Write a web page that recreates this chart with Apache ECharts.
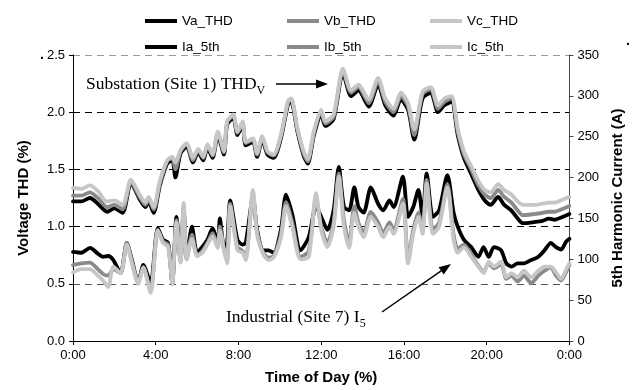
<!DOCTYPE html>
<html><head><meta charset="utf-8">
<script src="https://cdn.jsdelivr.net/npm/echarts@6/dist/echarts.min.js"></script>
<style>html,body{margin:0;padding:0;background:#fff}#c{width:633px;height:390px}</style>
</head><body><div id="c"></div>
<script>
// ---- data (hours of day) ----
const voltHours = [0,0.4,0.82,1.2,1.65,2.0,2.4,2.8,3.25,3.5,3.65,3.9,4.2,4.55,4.8,4.95,5.2,5.5,5.8,6.05,6.3,6.5,6.75,7.0,7.3,7.45,7.75,7.95,8.2,8.35,8.7,8.9,9.15,9.4,9.7,10.05,10.4,10.55,10.85,11.15,11.35,11.65,12.0,12.2,12.6,13.05,13.45,13.8,14.3,14.75,15.1,15.5,15.85,16.2,16.5,16.9,17.3,17.65,17.95,18.3,18.6,18.9,19.25,19.6,19.9,20.2,20.55,20.85,21.2,21.5,21.75,22.3,22.7,23.0,23.3,23.6,24.0];
const vaTHD = [1.22,1.22,1.25,1.20,1.13,1.16,1.12,1.38,1.23,1.17,1.22,1.12,1.36,1.55,1.58,1.43,1.64,1.70,1.56,1.65,1.58,1.69,1.60,1.80,1.63,1.89,1.95,1.80,1.89,1.71,1.74,1.61,1.76,1.63,1.60,1.77,2.07,2.09,1.83,1.62,1.55,1.80,1.98,1.88,1.94,2.34,2.14,2.19,2.05,2.24,2.06,1.97,2.11,2.02,1.76,2.12,2.17,2.00,2.06,2.09,1.80,1.60,1.46,1.32,1.23,1.19,1.26,1.19,1.14,1.07,1.03,1.04,1.05,1.07,1.06,1.08,1.11];
const vbTHD = [1.27,1.27,1.30,1.25,1.17,1.19,1.15,1.39,1.25,1.19,1.24,1.15,1.38,1.57,1.60,1.50,1.66,1.72,1.58,1.67,1.60,1.71,1.62,1.82,1.65,1.91,1.97,1.82,1.91,1.73,1.76,1.63,1.78,1.65,1.62,1.79,2.09,2.11,1.85,1.64,1.57,1.82,2.00,1.90,1.96,2.36,2.17,2.22,2.08,2.27,2.09,2.00,2.14,2.05,1.80,2.16,2.20,2.03,2.09,2.12,1.83,1.63,1.50,1.36,1.28,1.25,1.32,1.26,1.21,1.14,1.10,1.11,1.12,1.13,1.13,1.15,1.18];
const vcTHD = [1.34,1.33,1.36,1.31,1.22,1.23,1.19,1.41,1.27,1.21,1.26,1.17,1.40,1.58,1.61,1.56,1.67,1.73,1.60,1.68,1.61,1.72,1.63,1.83,1.66,1.92,1.98,1.83,1.92,1.74,1.77,1.64,1.79,1.66,1.63,1.80,2.10,2.12,1.86,1.66,1.59,1.84,2.02,1.92,1.98,2.38,2.19,2.24,2.11,2.30,2.12,2.03,2.17,2.08,1.85,2.18,2.22,2.06,2.12,2.14,1.86,1.66,1.53,1.40,1.32,1.30,1.37,1.32,1.28,1.22,1.19,1.19,1.20,1.21,1.21,1.23,1.26];

const currHours = [0,0.4,0.82,1.2,1.45,1.7,1.95,2.3,2.6,2.85,3.15,3.4,3.75,4.1,4.35,4.6,4.8,5.0,5.2,5.35,5.5,5.75,6.0,6.25,6.5,6.75,7.0,7.1,7.3,7.45,7.6,7.95,8.2,8.35,8.7,8.9,9.2,9.45,9.7,10.05,10.3,10.6,11.0,11.4,11.75,12.0,12.3,12.6,12.85,13.1,13.35,13.6,13.8,14.05,14.4,14.75,15.0,15.3,15.5,15.95,16.2,16.45,16.7,16.9,17.1,17.4,17.7,18.1,18.4,18.6,18.9,19.25,19.6,19.85,20.1,20.35,20.7,20.95,21.2,21.5,21.8,22.15,22.5,22.8,23.1,23.35,23.6,23.85,24.0];
const ia5th = [109,108,114,107,103,104,99,83,120,99,72,93,71,138,124,120,71,152,99,160,103,140,108,115,124,138,120,150,115,120,172,124,118,120,175,136,111,111,108,136,179,155,111,127,165,152,136,160,213,164,160,188,164,157,188,168,160,172,164,201,152,164,185,152,205,152,160,203,157,140,124,115,103,115,103,115,111,95,91,95,95,99,103,111,120,115,112,122,125];
const ib5th = [93,95,96,88,82,80,88,83,120,97,72,90,62,136,122,118,70,148,97,166,100,130,105,110,120,132,116,140,112,100,168,115,110,102,180,133,108,102,104,130,170,145,103,110,175,140,120,145,205,148,120,165,145,132,158,145,132,145,136,174,100,136,157,136,197,136,145,192,130,113,118,106,92,85,95,89,94,76,80,73,80,71,80,86,90,80,74,85,93];
const ic5th = [84,88,88,80,74,66,91,83,118,95,70,90,59,135,120,115,70,145,96,169,100,125,104,108,118,128,114,135,111,95,165,111,108,99,185,130,106,99,102,126,165,140,100,103,181,136,115,140,201,140,114,157,140,127,152,140,127,140,131,168,95,131,152,131,193,131,140,188,124,108,115,103,91,83,97,91,97,78,83,78,86,78,86,91,91,84,76,88,95];

const legendNames = ['Va_THD','Vb_THD','Vc_THD','Ia_5th','Ib_5th','Ic_5th'];

// ---- chart ----
const FONT = '"Liberation Sans", Arial, sans-serif';
const SERIF = '"Liberation Serif", "Times New Roman", serif';
const colors = ['#000000','#8a8a8a','#c6c6c6'];
const chart = echarts.init(document.getElementById('c'), null, {renderer:'canvas'});

function mk(name, hours, vals, yIdx, color){
  return {
    name, type:'line', yAxisIndex:yIdx, symbol:'none', smooth:0.25,
    data: hours.map((h,i)=>[h, vals[i]]),
    lineStyle:{width:3.8, color, cap:'round', join:'round'},
    itemStyle:{color}, emphasis:{disabled:true}, animation:false
  };
}

const legendPos = [[140,9],[282,9],[425,9],[140,35],[282,35],[425,35]];
const legends = legendNames.map((n,i)=>({
  data:[n], left:legendPos[i][0], top:legendPos[i][1], icon:'rect',
  itemWidth:32, itemHeight:4, itemGap:0, selectedMode:false,
  textStyle:{fontFamily:FONT, fontSize:13.5, color:'#000'}
}));

function measure(text, font){
  const c = document.createElement('canvas').getContext('2d');
  c.font = font; return c.measureText(text).width;
}
const annSize = 17.5;
const w1 = measure('Substation (Site 1) THD', annSize+'px '+SERIF);
const w2 = measure('Industrial (Site 7) I', annSize+'px '+SERIF);

function arrow(x1,y1,x2,y2){
  const a = Math.atan2(y2-y1, x2-x1), L=12, W=4.5;
  const bx = x2 - L*Math.cos(a), by = y2 - L*Math.sin(a);
  return [
    {type:'line', shape:{x1,y1,x2:bx,y2:by}, style:{stroke:'#000', lineWidth:1.5}, z:100},
    {type:'polygon', shape:{points:[[x2,y2],[bx - W*Math.sin(a), by + W*Math.cos(a)],[bx + W*Math.sin(a), by - W*Math.cos(a)]]}, style:{fill:'#000'}, z:100}
  ];
}

const option = {
  backgroundColor:'#fff',
  animation:false,
  textStyle:{fontFamily:FONT},
  legend: legends,
  grid:{left:73, right:62, top:55, bottom:49, show:false},
  xAxis:{
    type:'value', min:0, max:24, interval:4,
    name:'Time of Day (%)', nameLocation:'middle', nameGap:29,
    nameTextStyle:{fontFamily:FONT, fontSize:15, fontWeight:'bold', color:'#000'},
    axisLine:{lineStyle:{color:'#000', width:1}},
    axisTick:{show:true, length:4, lineStyle:{color:'#000'}},
    axisLabel:{formatter:v=>(v%24)+':00', fontFamily:FONT, fontSize:13, color:'#000', margin:8},
    splitLine:{show:false}
  },
  yAxis:[{
    type:'value', min:0, max:2.5, interval:0.5, position:'left',
    name:'Voltage THD (%)', nameLocation:'middle', nameGap:42, nameRotate:90,
    nameTextStyle:{fontFamily:FONT, fontSize:15, fontWeight:'bold', color:'#000'},
    axisLine:{show:true, lineStyle:{color:'#000'}},
    axisTick:{show:true, length:4, lineStyle:{color:'#000'}},
    axisLabel:{formatter:v=>v.toFixed(1), fontFamily:FONT, fontSize:13, color:'#000', margin:8},
    splitLine:{show:true, lineStyle:{color:['#000','#555','#000','#000','#000','#999'], type:[7,5], width:1}}
  },{
    type:'value', min:0, max:350, interval:50, position:'right',
    name:'5th Harmonic Current (A)', nameLocation:'middle', nameGap:38, nameRotate:90,
    nameTextStyle:{fontFamily:FONT, fontSize:15, fontWeight:'bold', color:'#000'},
    axisLine:{show:true, lineStyle:{color:'#444'}},
    axisTick:{show:true, length:4, lineStyle:{color:'#444'}},
    axisLabel:{fontFamily:FONT, fontSize:13, color:'#000', margin:8},
    splitLine:{show:false}
  }],
  series:[
    mk('Va_THD', voltHours, vaTHD, 0, colors[0]),
    mk('Vb_THD', voltHours, vbTHD, 0, colors[1]),
    mk('Vc_THD', voltHours, vcTHD, 0, colors[2]),
    mk('Ia_5th', currHours, ia5th, 1, colors[0]),
    mk('Ib_5th', currHours, ib5th, 1, colors[1]),
    mk('Ic_5th', currHours, ic5th, 1, colors[2])
  ],
  graphic:[
    {type:'text', left:86, top:75, z:100, style:{text:'Substation (Site 1) THD', font:annSize+'px '+SERIF, fill:'#000'}},
    {type:'text', left:86+w1, top:85, z:100, style:{text:'V', font:'12px '+SERIF, fill:'#000'}},
    ...arrow(276,84,328,84),
    {type:'text', left:226, top:308, z:100, style:{text:'Industrial (Site 7) I', font:annSize+'px '+SERIF, fill:'#000'}},
    {type:'text', left:226+w2, top:318, z:100, style:{text:'5', font:'12px '+SERIF, fill:'#000'}},
    ...arrow(382,312,451,264),
    {type:'text', left:40, top:48, style:{text:'.', font:'bold 14px '+FONT, fill:'#000'}},
    {type:'text', left:626, top:34, style:{text:'.', font:'bold 14px '+FONT, fill:'#000'}}
  ]
};
chart.setOption(option);
</script></body></html>
